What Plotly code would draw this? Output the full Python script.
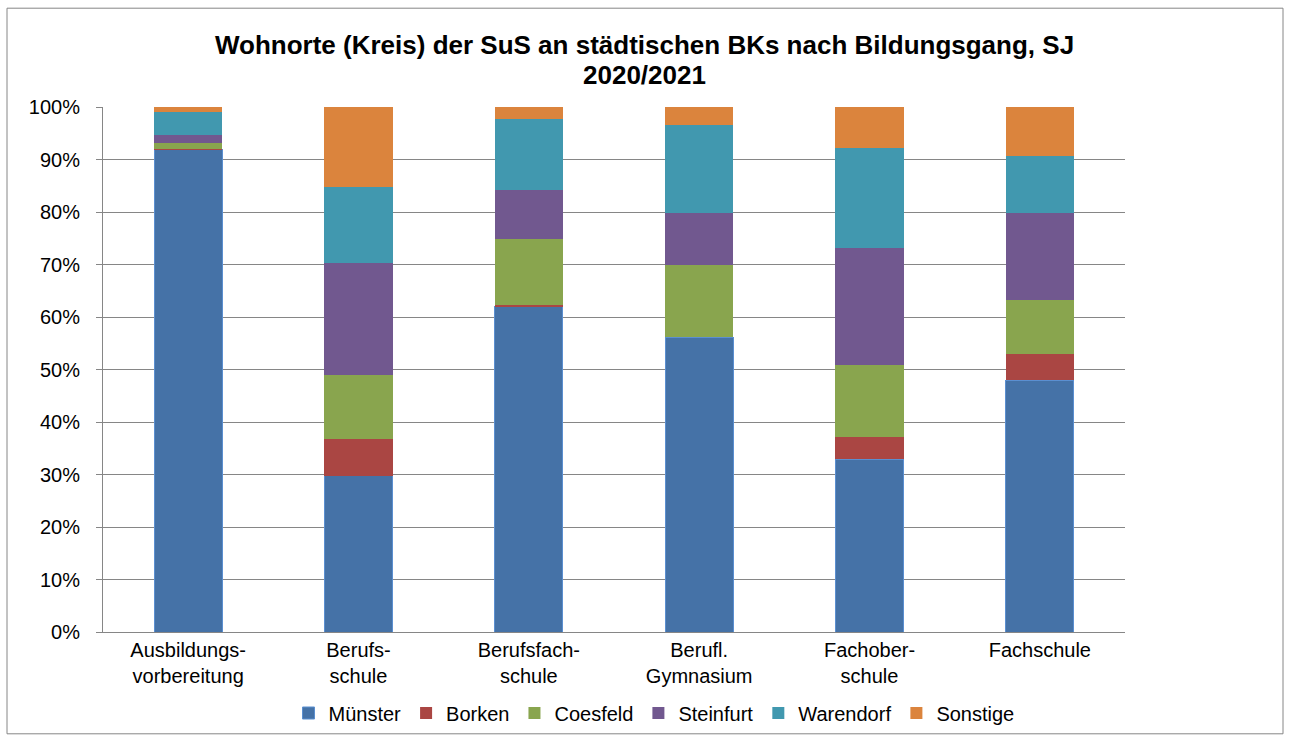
import plotly.graph_objects as go

categories = ["Ausbildungs-<br>vorbereitung", "Berufs-<br>schule", "Berufsfach-<br>schule",
              "Berufl.<br>Gymnasium", "Fachober-<br>schule", "Fachschule"]
muenster = [91.9, 29.8, 62.0, 56.1, 32.9, 48.0]
borken = [0.1, 7.0, 0.2, 0.0, 4.3, 5.0]
coesfeld = [1.1, 12.2, 12.6, 13.9, 13.6, 10.3]
steinfurt = [1.6, 21.3, 9.4, 9.8, 22.3, 16.5]
warendorf = [4.4, 14.4, 13.6, 16.7, 19.0, 10.8]
sonstige = [0.9, 15.3, 2.2, 3.5, 7.9, 9.4]

title_lines = ["Wohnorte (Kreis) der SuS an städtischen BKs nach Bildungsgang, SJ", "2020/2021"]

series = [
    ("Münster", muenster, "#4572A7", "#5B8FD0"),
    ("Borken", borken, "#AA4643", "#AA4643"),
    ("Coesfeld", coesfeld, "#89A54E", "#89A54E"),
    ("Steinfurt", steinfurt, "#71588F", "#71588F"),
    ("Warendorf", warendorf, "#4198AF", "#4198AF"),
    ("Sonstige", sonstige, "#DB843D", "#DB843D"),
]

fig = go.Figure()
for name, vals, col, line in series:
    fig.add_trace(go.Bar(
        x=categories, y=[v / 100 for v in vals], name=name,
        marker=dict(color=col, line=dict(color=line, width=1 if name == "Münster" else 0)),
    ))

W, H = 1291, 743
L, R, T, B = 103, 1125, 107, 633
pw, ph = R - L, B - T

fig.update_layout(
    barmode="stack",
    bargap=0.6,
    width=W, height=H,
    margin=dict(l=L, r=W - R, t=T, b=H - B),
    paper_bgcolor="white", plot_bgcolor="white",
    font=dict(family="Liberation Sans, Arial, sans-serif", size=20, color="black"),
    xaxis=dict(showgrid=False, showline=True, linecolor="#868686", linewidth=1,
               ticks="", tickfont=dict(size=20)),
    yaxis=dict(range=[0, 1], tickformat=".0%", dtick=0.1, showgrid=True,
               gridcolor="#868686", gridwidth=1, showline=True, linecolor="#868686",
               ticks="outside", ticklen=6, tickcolor="#868686", tickfont=dict(size=20),
               ticklabelstandoff=12, zeroline=False),
    legend=dict(orientation="h", x=(654 - L) / pw, xanchor="center",
                y=(B - 713) / ph, yanchor="middle", font=dict(size=20),
                itemwidth=30, traceorder="normal"),
    showlegend=True,
)

for i, (txt, py) in enumerate(zip(title_lines, [45, 75])):
    fig.add_annotation(text="<b>" + txt + "</b>", xref="paper", yref="paper",
                       x=(644 - L) / pw, y=(B - py) / ph, xanchor="center", yanchor="middle",
                       showarrow=False, font=dict(size=26, color="black"))

fig.add_shape(type="rect", xref="paper", yref="paper",
              x0=(7 - L) / pw, x1=(1283 - L) / pw,
              y0=(B - 735) / ph, y1=(B - 8) / ph,
              line=dict(color="#868686", width=1), fillcolor="rgba(0,0,0,0)", layer="below")

fig.write_html("out.html", config={"displayModeBar": False},
               post_script="document.body.style.margin='0px';")
